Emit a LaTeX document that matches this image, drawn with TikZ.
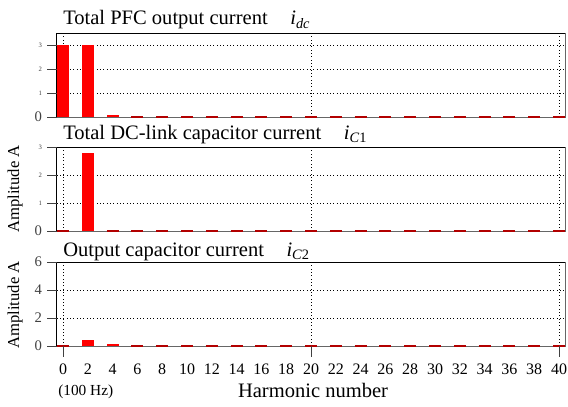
\documentclass[tikz,border=0pt]{standalone}
\usepackage{fontspec}
\setmainfont{Liberation Serif}

\newcommand{\ttl}{\fontsize{15.4}{18}\selectfont}
\newcommand{\cur}[1]{\textit{i}\textsubscript{#1}}

\begin{document}
\begin{tikzpicture}[x=0.75pt,y=0.75pt]
  \tikzset{ grid/.style={black,dotted,line width=0.5pt},
    bar/.style={fill=red},
    stub/.style={red!70!black,line width=1.4pt},
    frame/.style={line width=0.7pt},
    tk/.style={black!75,line width=0.7pt},
    big/.style={font=\fontsize{11}{13}\selectfont},
    num/.style={font=\fontsize{12}{14}\selectfont},
    small/.style={font=\fontsize{5}{6}\selectfont},
    ttlnode/.style={anchor=base west,inner sep=0pt,font=\ttl},
  }
  \useasboundingbox (0,0) rectangle (568,407);

  % titles of the three spectra
  \node[ttlnode] (T1) at (63,382) {Total PFC output current\hspace{1.1em}\cur{\textit{dc}}};
  \node[ttlnode] (T2) at (63,267) {Total DC-link capacitor current\hspace{1.1em}\cur{\textit{C}1}};
  \node[ttlnode] (T3) at (63,150) {Output capacitor current\hspace{1.1em}\cur{\textit{C}2}};

  % PFC output current
  \begin{scope}[shift={(63,290)},x=9.3pt,y=18pt]
    \foreach \v in {1,2,3} \draw[grid] (-0.5,\v) -- (40.5,\v);
    \foreach \h in {0,20,40} \draw[grid] (\h,0) -- (\h,3.5);
    \foreach \h/\a in {0/3,2/3,4/0.08} \fill[bar] (\h-0.48,0) rectangle (\h+0.48,\a);
    \draw[frame,black!60] (-0.5,0) -- (40.5,0) -- (40.5,3.5);
    \foreach \h in {6,8,...,40} \draw[stub] (\h-0.48,0) -- (\h+0.48,0);
    \draw[frame] (-0.5,0) -- (-0.5,3.5) -- (40.5,3.5);
    \foreach \v in {1,2,3}
      \draw[tk] (-0.5,\v) -- ++(-7.5pt,0) node[left,small] (a\v) {\v};
    \draw[tk] (-0.5,0) -- ++(-7.5pt,0) node[left,big] (a0) {0};
  \end{scope}

  % DC-link capacitor current
  \begin{scope}[shift={(63,176)},x=9.3pt,y=21pt]
    \foreach \v in {1,2} \draw[grid] (-0.5,\v) -- (40.5,\v);
    \foreach \h in {0,20,40} \draw[grid] (\h,0) -- (\h,3);
    \fill[bar] (2-0.48,0) rectangle (2+0.48,2.8);
    \draw[frame,black!60] (-0.5,0) -- (40.5,0) -- (40.5,3);
    \foreach \h in {0,4,6,...,40} \draw[stub] (\h-0.48,0) -- (\h+0.48,0);
    \draw[frame] (-0.5,0) -- (-0.5,3) -- (40.5,3);
    \foreach \v in {1,2,3}
      \draw[tk] (-0.5,\v) -- ++(-7.5pt,0) node[left,small] (b\v) {\v};
    \draw[tk] (-0.5,0) -- ++(-7.5pt,0) node[left,big] (b0) {0};
  \end{scope}

  % output capacitor current
  \begin{scope}[shift={(63,61)},x=9.3pt,y=10.5pt]
    \foreach \v in {2,4} \draw[grid] (-0.5,\v) -- (40.5,\v);
    \foreach \h in {0,20,40} \draw[grid] (\h,0) -- (\h,6);
    \foreach \h/\a in {2/0.43,4/0.16} \fill[bar] (\h-0.48,0) rectangle (\h+0.48,\a);
    \draw[frame,black!60] (-0.5,0) -- (40.5,0) -- (40.5,6);
    \foreach \h in {0,6,8,...,40} \draw[stub] (\h-0.48,0) -- (\h+0.48,0);
    \draw[frame] (-0.5,0) -- (-0.5,6) -- (40.5,6);
    \foreach \v in {0,2,4,6}
      \draw[tk] (-0.5,\v) -- ++(-7.5pt,0) node[left,big] (c\v) {\v};
    \foreach \h in {0,20,40} \draw[tk] (\h,0) -- ++(0,-8.5pt);
  \end{scope}

  % harmonic axis
  \foreach \h in {0,2,...,40}
    \node[num,anchor=base,inner sep=0pt] (h\h) at ({63+12.4*\h},32) {\h};
  \node[anchor=base west,inner sep=0pt,font=\fontsize{11.5}{13}\selectfont] (hz) at (58,11) {(100 Hz)};
  \node[anchor=base,inner sep=0pt,font=\ttl] (xl) at (313,9) {Harmonic number};

  \node[rotate=90,font=\fontsize{12.5}{14}\selectfont] (yl2) at (15,218) {Amplitude A};
  \node[rotate=90,font=\fontsize{12.5}{14}\selectfont] (yl3) at (15,102) {Amplitude A};
\end{tikzpicture}
\end{document}
